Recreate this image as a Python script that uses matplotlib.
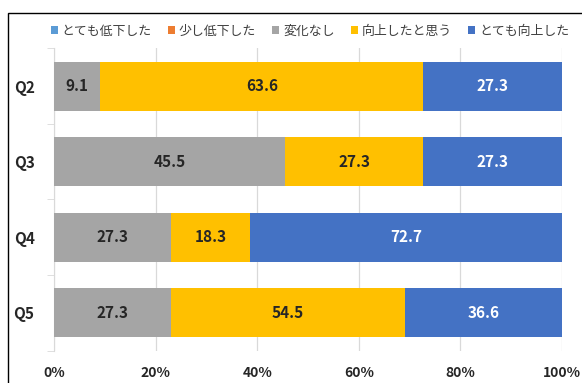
import numpy as np
import matplotlib.pyplot as plt
from matplotlib.patches import Rectangle

plt.rcParams['font.family'] = ['Noto Sans CJK JP', 'DejaVu Sans']

# ------------------------------------------------------------------
# data (raw values, shown as 100% stacked bars)
# ------------------------------------------------------------------
questions = ['Q2', 'Q3', 'Q4', 'Q5']
series_names = ['とても低下した', '少し低下した', '変化なし', '向上したと思う', 'とても向上した']
very_down = [0.0, 0.0, 0.0, 0.0]
bit_down = [0.0, 0.0, 0.0, 0.0]
no_change = [9.1, 45.5, 27.3, 27.3]
improved = [63.6, 27.3, 18.3, 54.5]
very_up = [27.3, 27.3, 72.7, 36.6]

colors = ['#5B9BD5', '#ED7D31', '#A5A5A5', '#FFC000', '#4472C4']
label_colors = ['#262626', '#262626', '#262626', '#262626', 'white']

values = np.array([very_down, bit_down, no_change, improved, very_up])
totals = values.sum(axis=0)
shares = values / totals * 100.0

fig = plt.figure(figsize=(5.82, 3.83), dpi=100)
ax = fig.add_axes([54 / 582, 1 - 350.5 / 383, 508 / 582, 302 / 383])

y = np.arange(len(questions))
left = np.zeros(len(questions))
for i, name in enumerate(series_names):
    ax.barh(y, shares[i], left=left, height=0.65, color=colors[i],
            label=name, zorder=3)
    for j in range(len(questions)):
        if values[i, j] > 0:
            ax.text(left[j] + shares[i, j] / 2, y[j], f'{values[i, j]:.1f}',
                    ha='center', va='center', fontsize=11, fontweight='bold',
                    color=label_colors[i], zorder=4)
    left += shares[i]

ax.set_xlim(0, 100)
ax.set_ylim(3.5, -0.5)
ax.set_yticks(y)
ax.set_yticklabels(questions, fontsize=11, fontweight='bold', color='#262626')
ax.set_yticks(np.arange(-0.5, 4, 1), minor=True)
ax.tick_params(axis='y', which='major', length=0, pad=14)
ax.tick_params(axis='y', which='minor', length=5, color='#D9D9D9')
ax.set_xticks(np.arange(0, 101, 20))
ax.set_xticklabels([f'{v}%' for v in range(0, 101, 20)], fontsize=10,
                   fontweight='bold', color='#262626')
ax.tick_params(axis='x', length=0, pad=11)
ax.grid(axis='x', color='#D9D9D9', linewidth=0.9, zorder=0)
for s in ['top', 'right', 'bottom']:
    ax.spines[s].set_visible(False)
ax.spines['left'].set_color('#D9D9D9')

fig.legend(loc='center', bbox_to_anchor=(310 / 582, 1 - 31 / 383), ncol=5,
           frameon=False, fontsize=9.3, handlelength=0.55, handleheight=0.55,
           handletextpad=0.3, columnspacing=1.25, labelcolor='#404040')

# outer chart frame
fig.patches.append(Rectangle((8 / 582, -0.1), 1.2, 1 - 12.5 / 383 + 0.1,
                             transform=fig.transFigure, fill=False,
                             edgecolor='black', linewidth=1.0))

fig.savefig('out.png', dpi=100, facecolor='white')
